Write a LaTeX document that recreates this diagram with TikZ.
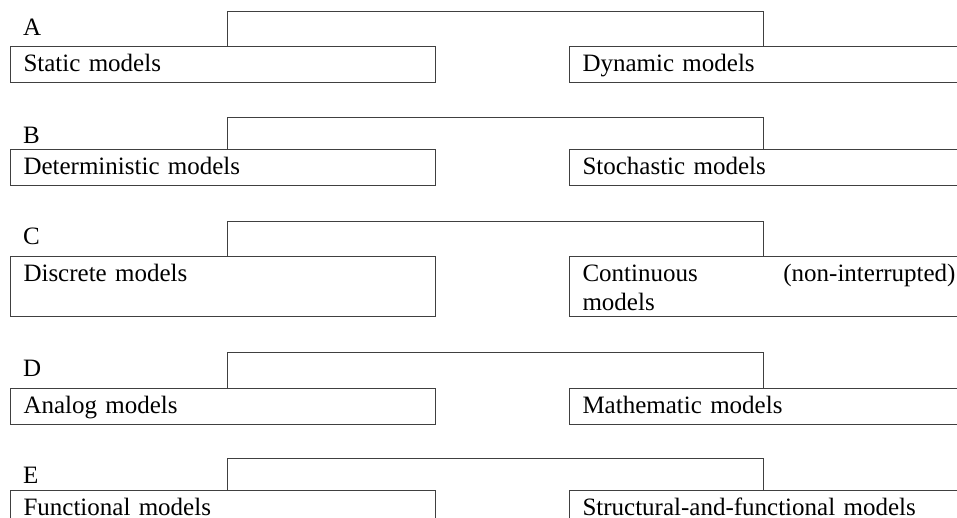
\documentclass[tikz,border=0pt]{standalone}
\usepackage{fontspec}
\setmainfont{Liberation Serif}
\begin{document}
\begin{tikzpicture}[x=1pt,y=-1pt,
  every node/.style={font=\fontsize{25}{29}\selectfont},
  modelbox/.style={draw=black!75, line width=1pt, anchor=north west,
    inner xsep=13pt, inner ysep=6.5pt, text height=18pt, text depth=5pt, align=left},
  leftbox/.style={modelbox, text width=399pt},
  rightbox/.style={modelbox, text width=373pt},
  tallbox/.style={text depth=29pt},
  rowlabel/.style={anchor=base west, inner sep=0pt},
  link/.style={draw=black!75, line width=1pt}]
\clip (0,0) rectangle (957,517);

% row A
\node[rowlabel] (lA) at (23,35) {A};
\node[leftbox]  (sA) at (10,46)  {Static models};
\node[rightbox] (dA) at (569,46) {Dynamic models};
\draw[link] ([xshift=217pt]sA.north west) |- ([xshift=194pt,yshift=35pt]dA.north west) -- ([xshift=194pt]dA.north west);

% row B
\node[rowlabel] (lB) at (23,143) {B};
\node[leftbox]  (sB) at (10,149)  {Deterministic models};
\node[rightbox] (dB) at (569,149) {Stochastic models};
\draw[link] ([xshift=217pt]sB.north west) |- ([xshift=194pt,yshift=32pt]dB.north west) -- ([xshift=194pt]dB.north west);

% row C
\node[rowlabel] (lC) at (23,244) {C};
\node[leftbox,tallbox]  (sC) at (10,256)  {Discrete models};
\node[rightbox,tallbox] (dC) at (569,256) {Continuous\hfill(non-interrupted)\\models};
\draw[link] ([xshift=217pt]sC.north west) |- ([xshift=194pt,yshift=35pt]dC.north west) -- ([xshift=194pt]dC.north west);

% row D
\node[rowlabel] (lD) at (23,376) {D};
\node[leftbox]  (sD) at (10,388)  {Analog models};
\node[rightbox] (dD) at (569,388) {Mathematic models};
\draw[link] ([xshift=217pt]sD.north west) |- ([xshift=194pt,yshift=36pt]dD.north west) -- ([xshift=194pt]dD.north west);

% row E
\node[rowlabel] (lE) at (23,483) {E};
\node[leftbox]  (sE) at (10,490)  {Functional models};
\node[rightbox] (dE) at (569,490) {Structural-and-functional models};
\draw[link] ([xshift=217pt]sE.north west) |- ([xshift=194pt,yshift=32pt]dE.north west) -- ([xshift=194pt]dE.north west);
\end{tikzpicture}
\end{document}
